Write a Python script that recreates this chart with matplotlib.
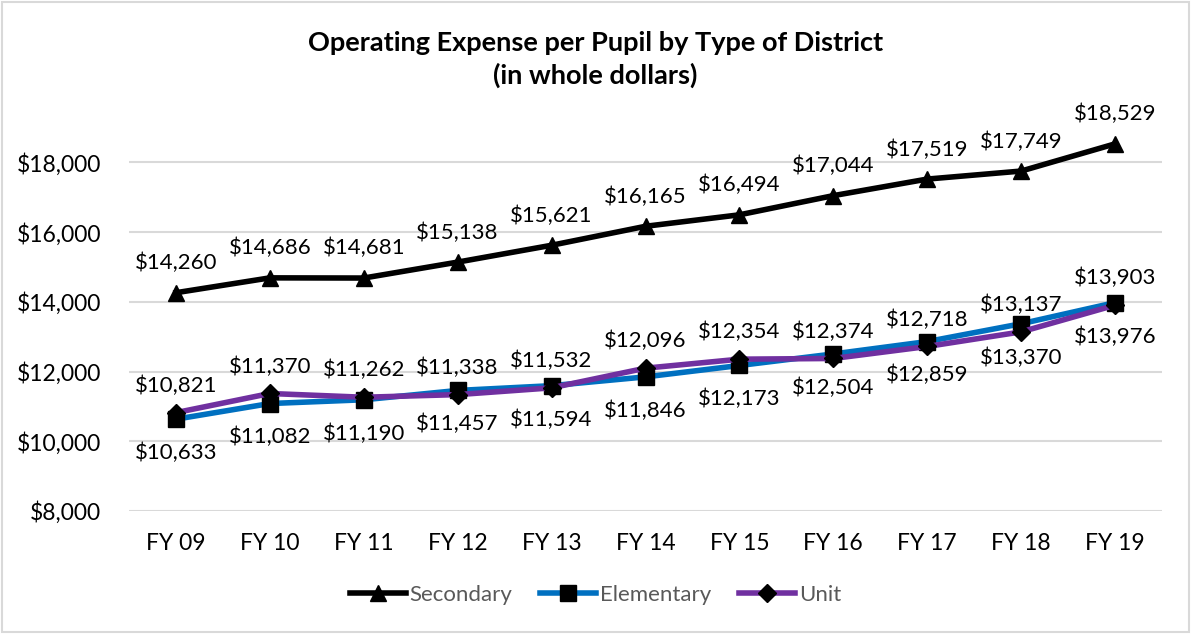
import matplotlib.pyplot as plt
from matplotlib.patches import Rectangle

# chart data
years = ['FY 09', 'FY 10', 'FY 11', 'FY 12', 'FY 13', 'FY 14', 'FY 15', 'FY 16', 'FY 17', 'FY 18', 'FY 19']
secondary = [14260, 14686, 14681, 15138, 15621, 16165, 16494, 17044, 17519, 17749, 18529]
elementary = [10633, 11082, 11190, 11457, 11594, 11846, 12173, 12504, 12859, 13370, 13976]
unit = [10821, 11370, 11262, 11338, 11532, 12096, 12354, 12374, 12718, 13137, 13903]

plt.rcParams['font.family'] = ['Lato', 'DejaVu Sans']

fig = plt.figure(figsize=(11.91, 6.34), dpi=100)
ax = fig.add_axes([129 / 1191, 0.194, 1033 / 1191, 0.6325])

x = list(range(len(years)))
ax.plot(x, secondary, color='black', lw=4, marker='^', ms=12, mfc='black', mec='black',
        label='Secondary', zorder=3)
ax.plot(x, elementary, color='#0070C0', lw=4, marker='s', ms=11, mfc='black', mec='black',
        label='Elementary', zorder=3)
ax.plot(x, unit, color='#7030A0', lw=4, marker='D', ms=9, mfc='black', mec='black',
        label='Unit', zorder=4)

# data labels
for i in x:
    ax.annotate(f'${secondary[i]:,}', (i, secondary[i]), xytext=(0, 14), textcoords='offset points',
                ha='center', va='bottom', fontsize=16)
    ax.annotate(f'${unit[i]:,}', (i, unit[i]), xytext=(0, 12), textcoords='offset points',
                ha='center', va='bottom', fontsize=16)
    ax.annotate(f'${elementary[i]:,}', (i, elementary[i]), xytext=(0, -17), textcoords='offset points',
                ha='center', va='top', fontsize=16)

ax.set_xlim(-0.5, len(years) - 0.5)
ax.set_ylim(8000, 19500)
ax.set_yticks(range(8000, 18001, 2000))
ax.yaxis.set_major_formatter(lambda v, p: f'${v:,.0f}')
ax.set_xticks(x)
ax.set_xticklabels(years)
ax.tick_params(length=0, labelsize=16.5)
ax.tick_params(axis='y', pad=20)
ax.tick_params(axis='x', pad=16)
ax.grid(axis='y', color='#D9D9D9', lw=1.5)
ax.set_axisbelow(True)
for s in ax.spines.values():
    s.set_visible(False)

fig.text(0.5, 0.906, 'Operating Expense per Pupil by Type of District\n(in whole dollars)',
         ha='center', va='center', fontsize=19.5, fontweight='bold', linespacing=1.35)

leg = fig.legend(loc='center', bbox_to_anchor=(0.5, 0.062), ncol=3, frameon=False, fontsize=16,
                 handlelength=2.5, handletextpad=0.18, columnspacing=1.26)
for t in leg.get_texts():
    t.set_color('#595959')

fig.patches.append(Rectangle((0.002, 0.003), 0.996, 0.994, transform=fig.transFigure,
                             fill=False, ec='#D9D9D9', lw=1.5))

fig.savefig('out.png', dpi=100)
